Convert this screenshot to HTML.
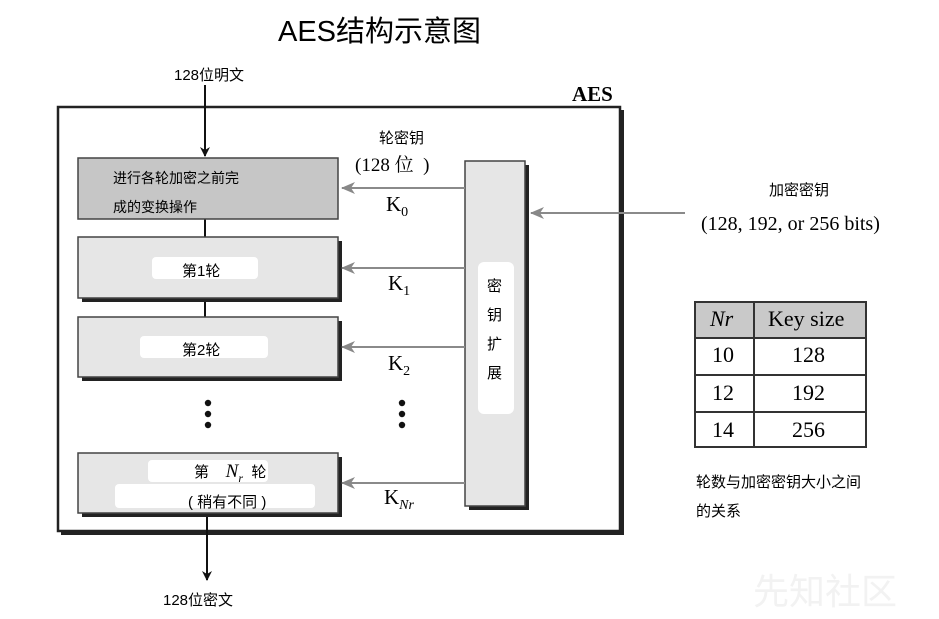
<!DOCTYPE html>
<html><head><meta charset="utf-8"><style>
body{margin:0;width:939px;height:619px;background:#fff;overflow:hidden;position:relative;font-family:"Liberation Sans","Noto Sans CJK SC",sans-serif}
.t{position:absolute;white-space:nowrap;color:#000}
.s{font-family:"Liberation Serif","Noto Serif CJK SC",serif}
</style></head><body>
<svg width="939" height="619" style="position:absolute;left:0;top:0">
<defs>
<marker id="ab" markerWidth="10" markerHeight="10" refX="9" refY="5" orient="auto" markerUnits="userSpaceOnUse"><path d="M0,0 L10,5 L0,10 L3,5z" fill="#111"/></marker>
<marker id="ag" markerWidth="14" markerHeight="12" refX="13" refY="6" orient="auto" markerUnits="userSpaceOnUse"><path d="M0,0 L14,6 L0,12 L4,6z" fill="#888"/></marker>
</defs>
<!-- outer box -->
<rect x="61" y="110" width="563" height="425" fill="#222"/>
<rect x="58" y="107" width="562" height="424" fill="#fff" stroke="#222" stroke-width="2.5"/>
<!-- vertical connectors -->
<line x1="205" y1="85" x2="205" y2="156" stroke="#111" stroke-width="2" marker-end="url(#ab)"/>
<line x1="205" y1="219" x2="205" y2="237" stroke="#111" stroke-width="2"/>
<line x1="205" y1="298" x2="205" y2="317" stroke="#111" stroke-width="2"/>
<line x1="207" y1="513" x2="207" y2="580" stroke="#111" stroke-width="2" marker-end="url(#ab)"/>
<!-- boxes -->
<rect x="78" y="158" width="260" height="61" fill="#c6c6c6" stroke="#444" stroke-width="1.5"/>
<rect x="82" y="241" width="260" height="61" fill="#222"/>
<rect x="78" y="237" width="260" height="61" fill="#e6e6e6" stroke="#444" stroke-width="1.5"/>
<rect x="82" y="321" width="260" height="60" fill="#222"/>
<rect x="78" y="317" width="260" height="60" fill="#e6e6e6" stroke="#444" stroke-width="1.5"/>
<rect x="82" y="457" width="260" height="60" fill="#222"/>
<rect x="78" y="453" width="260" height="60" fill="#e6e6e6" stroke="#444" stroke-width="1.5"/>
<rect x="469" y="165" width="60" height="345" fill="#222"/>
<rect x="465" y="161" width="60" height="345" fill="#e6e6e6" stroke="#444" stroke-width="1.5"/>
<!-- white blobs -->
<rect x="152" y="257" width="106" height="22" rx="4" fill="#fff"/>
<rect x="140" y="336" width="128" height="22" rx="4" fill="#fff"/>
<rect x="148" y="460" width="120" height="22" rx="4" fill="#fff"/>
<rect x="115" y="484" width="200" height="24" rx="4" fill="#fff"/>
<rect x="478" y="262" width="36" height="152" rx="6" fill="#fff"/>
<!-- gray arrows -->
<g stroke="#8a8a8a" stroke-width="2">
<line x1="465" y1="188" x2="342" y2="188" marker-end="url(#ag)"/>
<line x1="465" y1="268" x2="342" y2="268" marker-end="url(#ag)"/>
<line x1="465" y1="347" x2="342" y2="347" marker-end="url(#ag)"/>
<line x1="465" y1="483" x2="342" y2="483" marker-end="url(#ag)"/>
<line x1="685" y1="213" x2="531" y2="213" marker-end="url(#ag)"/>
</g>
<!-- dots -->
<g fill="#111"><circle cx="208" cy="403" r="3.2"/><circle cx="208" cy="414" r="3.2"/><circle cx="208" cy="425" r="3.2"/>
<circle cx="402" cy="403" r="3.2"/><circle cx="402" cy="414" r="3.2"/><circle cx="402" cy="425" r="3.2"/></g>
<!-- table -->
<rect x="695" y="302" width="171" height="36" fill="#c9c9c9"/>
<g stroke="#333" stroke-width="2" fill="none">
<rect x="695" y="302" width="171" height="145"/>
<line x1="695" y1="338" x2="866" y2="338"/><line x1="695" y1="375" x2="866" y2="375"/><line x1="695" y1="412" x2="866" y2="412"/>
<line x1="754" y1="302" x2="754" y2="447"/>
</g>
</svg>
<div class="t" style="left:278px;top:8px;font-size:29px">AES结构示意图</div>
<div class="t" style="left:174px;top:64px;font-size:15px">128位明文</div>
<div class="t s" style="left:572px;top:82px;font-size:21px;font-weight:bold">AES</div>
<div class="t" style="left:379px;top:127px;font-size:15px">轮密钥</div>
<div class="t s" style="left:355px;top:150px;font-size:19px">(128 位&nbsp;&nbsp;)</div>
<div class="t" style="left:113px;top:168px;font-size:14px">进行各轮加密之前完</div>
<div class="t" style="left:113px;top:197px;font-size:14px">成的变换操作</div>
<div class="t" style="left:182px;top:260px;font-size:15px">第1轮</div>
<div class="t" style="left:182px;top:339px;font-size:15px">第2轮</div>
<div class="t" style="left:194px;top:461px;font-size:15px">第&nbsp;&nbsp;&nbsp; <span class="s" style="font-style:italic;font-size:19px">N<sub style="font-size:12px">r</sub></span>&nbsp; 轮</div>
<div class="t" style="left:188px;top:491px;font-size:15px">( 稍有不同 )</div>
<div class="t s" style="left:386px;top:192px;font-size:21px">K<sub style="font-size:14px">0</sub></div>
<div class="t s" style="left:388px;top:271px;font-size:21px">K<sub style="font-size:14px">1</sub></div>
<div class="t s" style="left:388px;top:351px;font-size:21px">K<sub style="font-size:14px">2</sub></div>
<div class="t s" style="left:384px;top:485px;font-size:21px">K<sub style="font-size:14px;font-style:italic">Nr</sub></div>
<div class="t" style="left:487px;top:272px;font-size:15px;line-height:29px;white-space:normal;width:18px">密钥扩展</div>
<div class="t" style="left:769px;top:179px;font-size:15px">加密密钥</div>
<div class="t s" style="left:701px;top:213px;font-size:20px">(128, 192, or 256 bits)</div>
<div class="t s" style="left:710px;top:306px;font-size:22px;font-style:italic">Nr</div>
<div class="t s" style="left:768px;top:306px;font-size:22px">Key size</div>
<div class="t s" style="left:712px;top:342px;font-size:22px">10</div>
<div class="t s" style="left:792px;top:342px;font-size:22px">128</div>
<div class="t s" style="left:712px;top:380px;font-size:22px">12</div>
<div class="t s" style="left:792px;top:380px;font-size:22px">192</div>
<div class="t s" style="left:712px;top:417px;font-size:22px">14</div>
<div class="t s" style="left:792px;top:417px;font-size:22px">256</div>
<div class="t" style="left:696px;top:471px;font-size:15px">轮数与加密密钥大小之间</div>
<div class="t" style="left:696px;top:500px;font-size:15px">的关系</div>
<div class="t" style="left:163px;top:589px;font-size:15px">128位密文</div>
<div class="t" style="left:753px;top:563px;font-size:36px;color:#f2f2f2">先知社区</div>
</body></html>
